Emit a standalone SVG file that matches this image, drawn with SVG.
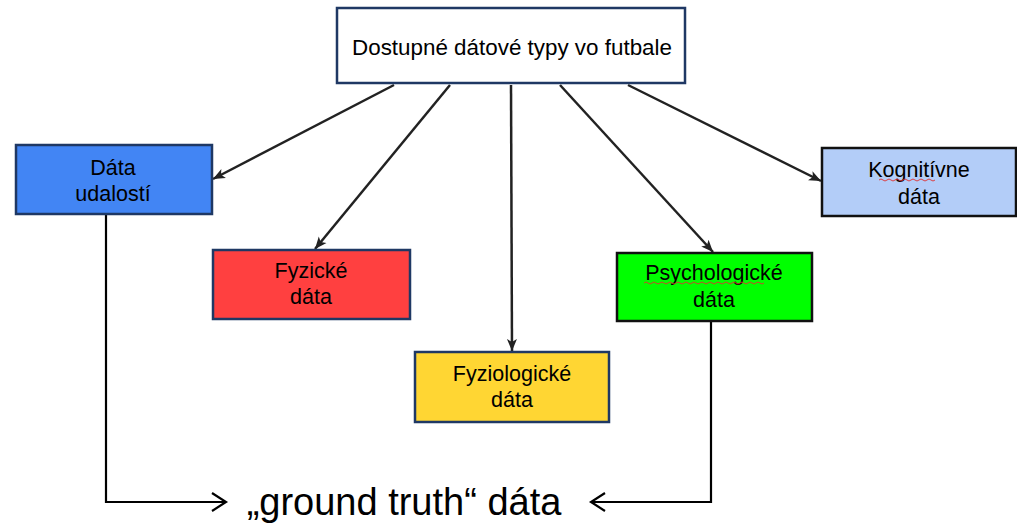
<svg xmlns="http://www.w3.org/2000/svg" width="1017" height="523" viewBox="0 0 1017 523">
<style>
.box{stroke-width:2.5}
.t{font-family:"Liberation Sans",Arial,sans-serif;font-size:21.5px;fill:#000;text-anchor:middle}
.c{fill:none;stroke:#222;stroke-width:2.5}
.g{fill:none;stroke:#000;stroke-width:2.2}
.sq{fill:none;stroke:#e03030;stroke-width:0.9}
</style>
<defs>
<marker id="ah" markerUnits="userSpaceOnUse" markerWidth="14" markerHeight="12" refX="12" refY="6" orient="auto">
<path d="M0,1 L12,6 L0,11 L3,6 Z" fill="#222"/>
</marker>
<marker id="oh" markerUnits="userSpaceOnUse" markerWidth="20" markerHeight="24" refX="17" refY="12" orient="auto">
<path d="M3,3 L17,12 L3,21" fill="none" stroke="#000" stroke-width="2.2"/>
</marker>
</defs>
<rect width="1017" height="523" fill="#fff"/>
<g id="connectors">
<line class="c" x1="394" y1="85" x2="213" y2="179" marker-end="url(#ah)"/>
<line class="c" x1="450" y1="85" x2="315" y2="249" marker-end="url(#ah)"/>
<line class="c" x1="511" y1="85" x2="512" y2="351" marker-end="url(#ah)"/>
<line class="c" x1="560" y1="85" x2="713" y2="252" marker-end="url(#ah)"/>
<line class="c" x1="628" y1="85" x2="821" y2="181" marker-end="url(#ah)"/>
<polyline class="g" points="106,214 106,502 226,502" marker-end="url(#oh)"/>
<polyline class="g" points="711,321 711,502 591,502" marker-end="url(#oh)"/>
</g>
<g id="top">
<rect class="box" x="337" y="8" width="348" height="75" fill="#fff" stroke="#1f3864"/>
<text class="t" x="512" y="55" style="font-size:22px" textLength="320" lengthAdjust="spacingAndGlyphs">Dostupné dátové typy vo futbale</text>
</g>
<g id="udalosti">
<rect class="box" x="16" y="145" width="196" height="69" fill="#4285f4" stroke="#1f3864"/>
<text class="t" x="113" y="175">Dáta</text>
<text class="t" x="113" y="201">udalostí</text>
</g>
<g id="fyzicke">
<rect class="box" x="213" y="250" width="197" height="69" fill="#ff4040" stroke="#1f3864"/>
<text class="t" x="311" y="278">Fyzické</text>
<text class="t" x="311" y="304">dáta</text>
</g>
<g id="fyziologicke">
<rect class="box" x="415" y="352" width="194" height="70" fill="#ffd633" stroke="#1f3864"/>
<text class="t" x="512" y="381">Fyziologické</text>
<text class="t" x="512" y="407">dáta</text>
</g>
<g id="psychologicke">
<rect class="box" x="617" y="253" width="195" height="68" fill="#00ff00" stroke="#111"/>
<text class="t" x="714" y="280">Psychologické</text>
<text class="t" x="714" y="307">dáta</text>
<path class="sq" d="M644,283 q2,-2 4,0 t4,0 t4,0 t4,0 t4,0 t4,0 t4,0 t4,0 t4,0 t4,0 t4,0 t4,0 t4,0 t4,0 t4,0 t4,0 t4,0 t4,0 t4,0 t4,0 t4,0 t4,0 t4,0 t4,0 t4,0 t4,0 t4,0 t4,0 t4,0 t4,0"/>
</g>
<g id="kognitivne">
<rect class="box" x="822" y="148" width="194" height="68" fill="#b3cdf8" stroke="#111"/>
<text class="t" x="919" y="177">Kognitívne</text>
<text class="t" x="919" y="204">dáta</text>
<path class="sq" d="M879,180 q2,-2 4,0 t4,0 t4,0 t4,0 t4,0 t4,0 t4,0 t4,0 t4,0 t4,0 t4,0 t4,0 t4,0 t4,0"/>
</g>
<g id="ground">
<text class="t" x="404" y="515" style="font-size:38px">„ground truth“ dáta</text>
</g>
</svg>
